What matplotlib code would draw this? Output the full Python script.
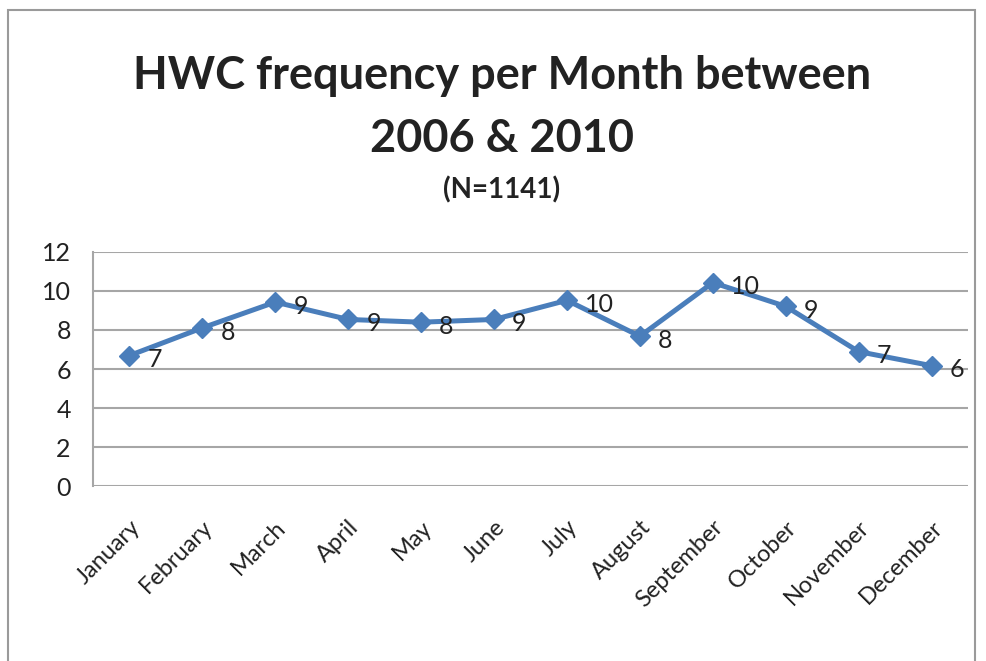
import matplotlib.pyplot as plt
from matplotlib.patches import Rectangle

months = ["January", "February", "March", "April", "May", "June",
          "July", "August", "September", "October", "November", "December"]
freq = [6.69, 8.11, 9.43, 8.54, 8.40, 8.54, 9.52, 7.68, 10.43, 9.21, 6.89, 6.17]
y_ticks = [0, 2, 4, 6, 8, 10, 12]

plt.rcParams['font.family'] = ['Lato', 'DejaVu Sans']

fig = plt.figure(figsize=(9.86, 6.61), dpi=100)
ax = fig.add_axes([0.0943, 0.2647, 0.8875, 0.3541])

x = list(range(len(months)))
ax.plot(x, freq, color='#4a7ebb', linewidth=3.6, marker='D',
        markersize=10.5, markerfacecolor='#4a7ebb', markeredgecolor='#4a7ebb',
        zorder=3)

for xi, v in zip(x, freq):
    ax.annotate(f"{v:.0f}", (xi, v), xytext=(13, -3), textcoords='offset points',
                ha='left', va='center', fontsize=18, color='#222222')

ax.set_xlim(-0.5, len(months) - 0.5)
ax.set_ylim(0, 12)
ax.set_yticks(y_ticks)
ax.set_xticks(x)
ax.set_xticklabels(months, rotation=45, ha='right', rotation_mode='anchor',
                   fontsize=17, color='#222222')
ax.tick_params(axis='y', labelsize=18, labelcolor='#222222', length=0, pad=16)
ax.tick_params(axis='x', length=0, pad=22)

ax.grid(axis='y', color='#a6a6a6', linewidth=1.5)
ax.set_axisbelow(True)
for side in ['top', 'right', 'bottom']:
    ax.spines[side].set_visible(False)
ax.spines['left'].set_color('#a6a6a6')
ax.spines['left'].set_linewidth(1.5)

# titles
fig.text(0.509, 0.885, "HWC frequency per Month between", ha='center', va='center',
         fontsize=32.5, fontweight='bold', color='#222222')
fig.text(0.509, 0.79, "2006 & 2010", ha='center', va='center',
         fontsize=32.5, fontweight='bold', color='#222222')
fig.text(0.509, 0.713, "(N=1141)", ha='center', va='center',
         fontsize=20, fontweight='bold', color='#222222')

# chart frame
fig.add_artist(Rectangle((8 / 986, -0.05), 967 / 986, 1.035,
                         transform=fig.transFigure, fill=False,
                         edgecolor='#9a9a9a', linewidth=1.5, clip_on=False))

fig.savefig("out.png", dpi=100)
